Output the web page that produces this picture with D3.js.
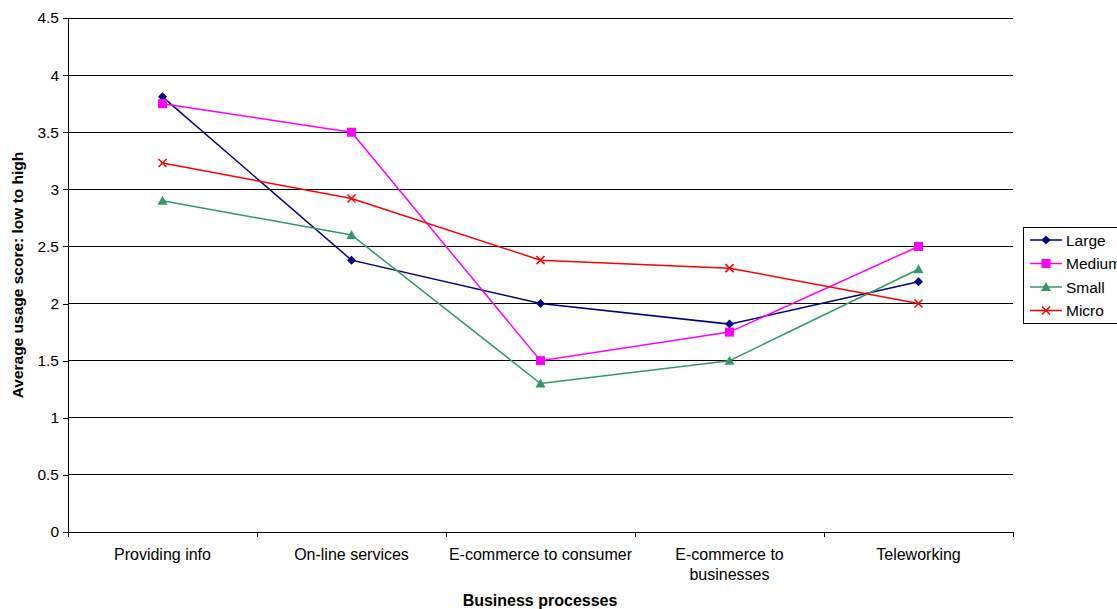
<!DOCTYPE html>
<html>
<head>
<meta charset="utf-8">
<script src="https://cdn.jsdelivr.net/npm/d3@7"></script>
<style>
  html, body { margin: 0; padding: 0; background: #fff; }
  svg { display: block; font-family: Arial, "Liberation Sans", sans-serif; }
</style>
</head>
<body>
<svg id="chart" width="1117" height="609"></svg>
<script>
// Business processes on the x axis
const categories = ["Providing info", "On-line services", "E-commerce to consumer", "E-commerce to businesses", "Teleworking"];
const categoryLines = [["Providing info"], ["On-line services"], ["E-commerce to consumer"], ["E-commerce to", "businesses"], ["Teleworking"]];

// Average usage score per business size
const large  = [3.81, 2.38, 2.0, 1.82, 2.19];
const medium = [3.75, 3.5, 1.5, 1.75, 2.5];
const small  = [2.9, 2.6, 1.3, 1.5, 2.3];
const micro  = [3.23, 2.92, 2.38, 2.31, 2.0];

const yTicks = [0, 0.5, 1, 1.5, 2, 2.5, 3, 3.5, 4, 4.5];

const series = [
  { name: "Large",  values: large,  color: "#000080", symbol: "diamond" },
  { name: "Medium", values: medium, color: "#FF00FF", symbol: "square" },
  { name: "Small",  values: small,  color: "#339966", symbol: "triangle" },
  { name: "Micro",  values: micro,  color: "#FF0000", symbol: "cross" }
];

const FONT = 15.5;
const LABEL_FONT = 16;
const svg = d3.select("#chart");
const plot = { left: 68, right: 1013, top: 18, bottom: 532 };

const x = d3.scaleBand().domain(categories).range([plot.left, plot.right]);
const y = d3.scaleLinear().domain([0, 4.5]).range([plot.bottom, plot.top]);

// Horizontal gridlines
svg.append("g")
  .selectAll("line")
  .data(yTicks.filter(d => d > 0))
  .join("line")
  .attr("x1", plot.left).attr("x2", plot.right)
  .attr("y1", d => y(d)).attr("y2", d => y(d))
  .attr("stroke", "#000").attr("stroke-width", 1)
  .attr("shape-rendering", "crispEdges");

// Y axis
const yAxis = svg.append("g")
  .attr("transform", `translate(${plot.left},0)`)
  .call(d3.axisLeft(y).tickValues(yTicks).tickSize(5).tickPadding(4).tickFormat(d => d3.format("")(d)));
yAxis.selectAll("path, line").attr("stroke", "#000").attr("shape-rendering", "crispEdges");
yAxis.select(".domain").attr("d", `M0,${plot.top}V${plot.bottom}`);
yAxis.selectAll("text").attr("font-size", FONT).attr("font-family", "Arial, 'Liberation Sans', sans-serif").attr("fill", "#000");

// X axis with ticks at category boundaries
const xAxisG = svg.append("g");
xAxisG.append("line")
  .attr("x1", plot.left).attr("x2", plot.right)
  .attr("y1", plot.bottom).attr("y2", plot.bottom)
  .attr("stroke", "#000").attr("shape-rendering", "crispEdges");
const boundaries = categories.map(c => x(c)).concat([x(categories[categories.length - 1]) + x.bandwidth()]);
xAxisG.selectAll("line.tick")
  .data(boundaries)
  .join("line")
  .attr("class", "tick")
  .attr("x1", d => d).attr("x2", d => d)
  .attr("y1", plot.bottom).attr("y2", plot.bottom + 5)
  .attr("stroke", "#000").attr("shape-rendering", "crispEdges");

const labels = xAxisG.selectAll("text.cat")
  .data(categories)
  .join("text")
  .attr("class", "cat")
  .attr("x", d => x(d) + x.bandwidth() / 2)
  .attr("y", plot.bottom + 28)
  .attr("text-anchor", "middle")
  .attr("font-size", LABEL_FONT)
  .attr("fill", "#000");
labels.each(function(d, i) {
  d3.select(this).selectAll("tspan")
    .data(categoryLines[i])
    .join("tspan")
    .attr("x", x(d) + x.bandwidth() / 2)
    .attr("dy", (t, j) => j === 0 ? 0 : 20)
    .text(t => t);
});

// Axis titles
svg.append("text")
  .attr("x", 540)
  .attr("y", 606)
  .attr("text-anchor", "middle")
  .attr("font-size", LABEL_FONT)
  .attr("font-weight", "bold")
  .text("Business processes");

svg.append("text")
  .attr("transform", `translate(23,${(plot.top + plot.bottom) / 2}) rotate(-90)`)
  .attr("text-anchor", "middle")
  .attr("font-size", FONT)
  .attr("font-weight", "bold")
  .text("Average usage score: low to high");

// Marker drawing
function drawMarker(g, symbol, color, cx, cy) {
  if (symbol === "diamond") {
    g.append("path").attr("d", `M${cx},${cy - 4.5}L${cx + 4.5},${cy}L${cx},${cy + 4.5}L${cx - 4.5},${cy}Z`).attr("fill", color);
  } else if (symbol === "square") {
    g.append("rect").attr("x", cx - 4.5).attr("y", cy - 4.5).attr("width", 9).attr("height", 9).attr("fill", color);
  } else if (symbol === "triangle") {
    g.append("path").attr("d", `M${cx},${cy - 5}L${cx + 5},${cy + 4}L${cx - 5},${cy + 4}Z`).attr("fill", color);
  } else {
    g.append("path").attr("d", `M${cx - 4},${cy - 4}L${cx + 4},${cy + 4}M${cx + 4},${cy - 4}L${cx - 4},${cy + 4}`)
      .attr("stroke", color).attr("stroke-width", 1.5).attr("fill", "none");
  }
}

const line = d3.line()
  .x((d, i) => x(categories[i]) + x.bandwidth() / 2)
  .y(d => y(d));

series.forEach(s => {
  const g = svg.append("g");
  g.append("path")
    .attr("d", line(s.values))
    .attr("fill", "none")
    .attr("stroke", s.color)
    .attr("stroke-width", 1.5);
  s.values.forEach((v, i) => drawMarker(g, s.symbol, s.color, x(categories[i]) + x.bandwidth() / 2, y(v)));
});

// Legend
const legend = svg.append("g");
legend.append("rect")
  .attr("x", 1023.5).attr("y", 227.5).attr("width", 110).attr("height", 96)
  .attr("fill", "#fff").attr("stroke", "#000").attr("stroke-width", 1);
series.forEach((s, i) => {
  const ly = 240 + i * 23.5;
  legend.append("line").attr("x1", 1030).attr("x2", 1062).attr("y1", ly).attr("y2", ly)
    .attr("stroke", s.color).attr("stroke-width", 1.5);
  drawMarker(legend, s.symbol, s.color, 1046, ly);
  legend.append("text").attr("x", 1066).attr("y", ly + 5.5).attr("font-size", FONT).text(s.name);
});
</script>
</body>
</html>
